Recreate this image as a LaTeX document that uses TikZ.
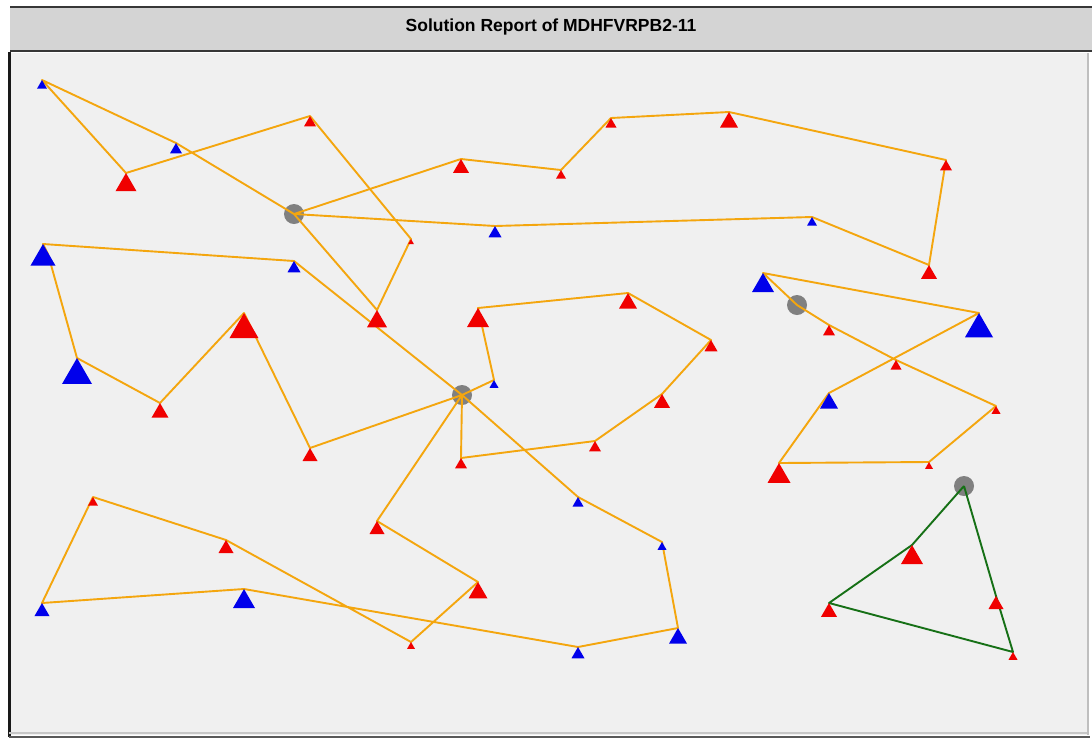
\documentclass[tikz,border=0pt]{standalone}
\usepackage{fontspec}
\setmainfont{Liberation Sans}
\usetikzlibrary{shapes.geometric}
\definecolor{route}{RGB}{244,166,14}
\definecolor{routeg}{RGB}{22,112,22}
\definecolor{cred}{RGB}{240,0,0}
\definecolor{cblue}{RGB}{0,0,235}
\definecolor{depotgray}{RGB}{128,128,128}
\definecolor{plotbg}{RGB}{240,240,240}
\definecolor{barbg}{RGB}{212,212,212}
\definecolor{edge}{RGB}{55,55,55}
\tikzset{
  cust/.style={regular polygon, regular polygon sides=3, inner sep=0pt,
    outer sep=0pt, anchor=corner 1, minimum size={#1*1.155pt}},
  pick/.style={cust=#1, fill=cred},
  drop/.style={cust=#1, fill=cblue},
  depot/.style={circle, fill=depotgray, minimum size=20pt, inner sep=0pt},
  leg/.style={draw=route, line width=1.9pt, line join=round},
  legg/.style={draw=routeg, line width=1.9pt, line join=round},
}
\begin{document}
\begin{tikzpicture}[x=1pt,y=-1pt]
\useasboundingbox (0,0) rectangle (1092,740);
\fill[white] (0,0) rectangle (1092,740);

% title bar
\fill[barbg] (10,7) rectangle (1092,50);
\draw[edge, line width=1.6pt] (10,7) -- (1092,7);
\draw[edge, line width=2pt] (10,50.5) -- (1092,50.5);
\node[font=\bfseries\fontsize{17.5}{20}\selectfont, anchor=base, inner sep=0pt]
  (title) at (551,31.5) {Solution Report of MDHFVRPB2-11};

% plot area
\fill[plotbg] (9,53) rectangle (1088,735);
\draw[black!90, line width=3.2pt] (9.5,52) -- (9.5,737);
\draw[black!22, line width=2pt] (9,733) -- (1088,733);
\draw[black!65, line width=2pt] (9,736.5) -- (1090,736.5);
\draw[black!25, line width=1.5pt] (1088,53) -- (1088,735);

% depots
\coordinate (d1) at (294,214);
\coordinate (d2) at (462,395);
\coordinate (d3) at (797,305);
\coordinate (d4) at (964,486);

% customers (apex of each marker)
\coordinate (a1) at (42,80);
\coordinate (a2) at (126,173);
\coordinate (a3) at (176,143);
\coordinate (a4) at (310,116);
\coordinate (a5) at (411,239);
\coordinate (a6) at (377,310);
\coordinate (a7) at (461,159);
\coordinate (a8) at (561,170);
\coordinate (a9) at (611,118);
\coordinate (a10) at (729,112);
\coordinate (a11) at (946,160);
\coordinate (a12) at (929,265);
\coordinate (a13) at (812,217);
\coordinate (a14) at (495,226);

\coordinate (b15) at (294,261);
\coordinate (b16) at (43,244);
\coordinate (b17) at (48,254);
\coordinate (b18) at (77,358);
\coordinate (b19) at (160,403);
\coordinate (b20) at (244,313);
\coordinate (b21) at (310,448);

\coordinate (c1) at (494,380);
\coordinate (c2) at (478,308);
\coordinate (c3) at (628,293);
\coordinate (c4) at (711,340);
\coordinate (c5) at (662,394);
\coordinate (c6) at (595,441);
\coordinate (c7) at (461,458);

\coordinate (e1) at (377,521);
\coordinate (e2) at (478,582);
\coordinate (e3) at (411,642);
\coordinate (e4) at (226,540);
\coordinate (e5) at (93,497);
\coordinate (e6) at (42,603);
\coordinate (e7) at (244,589);
\coordinate (e8) at (578,647);
\coordinate (e9) at (678,628);
\coordinate (e10) at (662,542);
\coordinate (e11) at (578,497);

\coordinate (g1) at (763,273);
\coordinate (g2) at (979,313);
\coordinate (g3) at (829,325);
\coordinate (g4) at (896,360);
\coordinate (g5) at (996,406);
\coordinate (g6) at (829,393);
\coordinate (g7) at (779,463);
\coordinate (g8) at (929,462);

\coordinate (h1) at (912,545);
\coordinate (h2) at (829,603);
\coordinate (h3) at (1013,652);
\coordinate (h4) at (996,596);

% depot markers
\node[depot] (D1) at (d1) {};
\node[depot] (D2) at (d2) {};
\node[depot] (D3) at (d3) {};
\node[depot] (D4) at (d4) {};

% routes
\draw[leg] (d1) -- (a14) -- (a13) -- (a12) -- (a11) -- (a10) -- (a9) -- (a8) -- (a7) -- (d1);
\draw[leg] (d1) -- (a6) -- (a5) -- (a4) -- (a2) -- (a1) -- (a3) -- (d1);
\draw[leg] (d2) -- (b15) -- (b16) -- (b17) -- (b18) -- (b19) -- (b20) -- (b21) -- (d2);
\draw[leg] (d2) -- (c1) -- (c2) -- (c3) -- (c4) -- (c5) -- (c6) -- (c7) -- (d2);
\draw[leg] (d2) -- (e1) -- (e2) -- (e3) -- (e4) -- (e5) -- (e6) -- (e7) -- (e8) -- (e9) -- (e10) -- (e11) -- (d2);
\draw[leg] (d3) -- (g3) -- (g4) -- (g5) -- (g8) -- (g7) -- (g6) -- (g2) -- (g1) -- (d3);
\draw[legg] (d4) -- (h4) -- (h3) -- (h2) -- (h1) -- (d4);

% customer markers
\node[drop=10] (A1) at (a1) {};
\node[pick=21] (A2) at (a2) {};
\node[drop=12] (A3) at (a3) {};
\node[pick=12] (A4) at (a4) {};
\node[pick=6] (A5) at (a5) {};
\node[pick=20] (A6) at (a6) {};
\node[pick=16] (A7) at (a7) {};
\node[pick=10] (A8) at (a8) {};
\node[pick=11] (A9) at (a9) {};
\node[pick=18] (A10) at (a10) {};
\node[pick=12] (A11) at (a11) {};
\node[pick=16] (A12) at (a12) {};
\node[drop=10] (A13) at (a13) {};
\node[drop=13] (A14) at (a14) {};

\node[drop=13] (B15) at (b15) {};
\node[drop=11] (B17) at (b17) {};
\node[drop=25] (B16) at (b16) {};
\node[drop=30] (B18) at (b18) {};
\node[pick=17] (B19) at (b19) {};
\node[pick=29] (B20) at (b20) {};
\node[pick=15] (B21) at (b21) {};

\node[drop=9] (C1) at (c1) {};
\node[pick=22] (C2) at (c2) {};
\node[pick=18] (C3) at (c3) {};
\node[pick=13] (C4) at (c4) {};
\node[pick=16] (C5) at (c5) {};
\node[pick=12] (C6) at (c6) {};
\node[pick=12] (C7) at (c7) {};

\node[pick=15] (E1) at (e1) {};
\node[pick=19] (E2) at (e2) {};
\node[pick=8] (E3) at (e3) {};
\node[pick=15] (E4) at (e4) {};
\node[pick=10] (E5) at (e5) {};
\node[drop=15] (E6) at (e6) {};
\node[drop=22] (E7) at (e7) {};
\node[drop=13] (E8) at (e8) {};
\node[drop=18] (E9) at (e9) {};
\node[drop=9] (E10) at (e10) {};
\node[drop=11] (E11) at (e11) {};

\node[drop=22] (G1) at (g1) {};
\node[drop=28] (G2) at (g2) {};
\node[pick=12] (G3) at (g3) {};
\node[pick=11] (G4) at (g4) {};
\node[pick=9] (G5) at (g5) {};
\node[drop=18] (G6) at (g6) {};
\node[pick=23] (G7) at (g7) {};
\node[pick=8] (G8) at (g8) {};

\node[pick=22] (H1) at (h1) {};
\node[pick=16] (H2) at (h2) {};
\node[pick=9] (H3) at (h3) {};
\node[pick=15] (H4) at (h4) {};
\end{tikzpicture}
\end{document}
